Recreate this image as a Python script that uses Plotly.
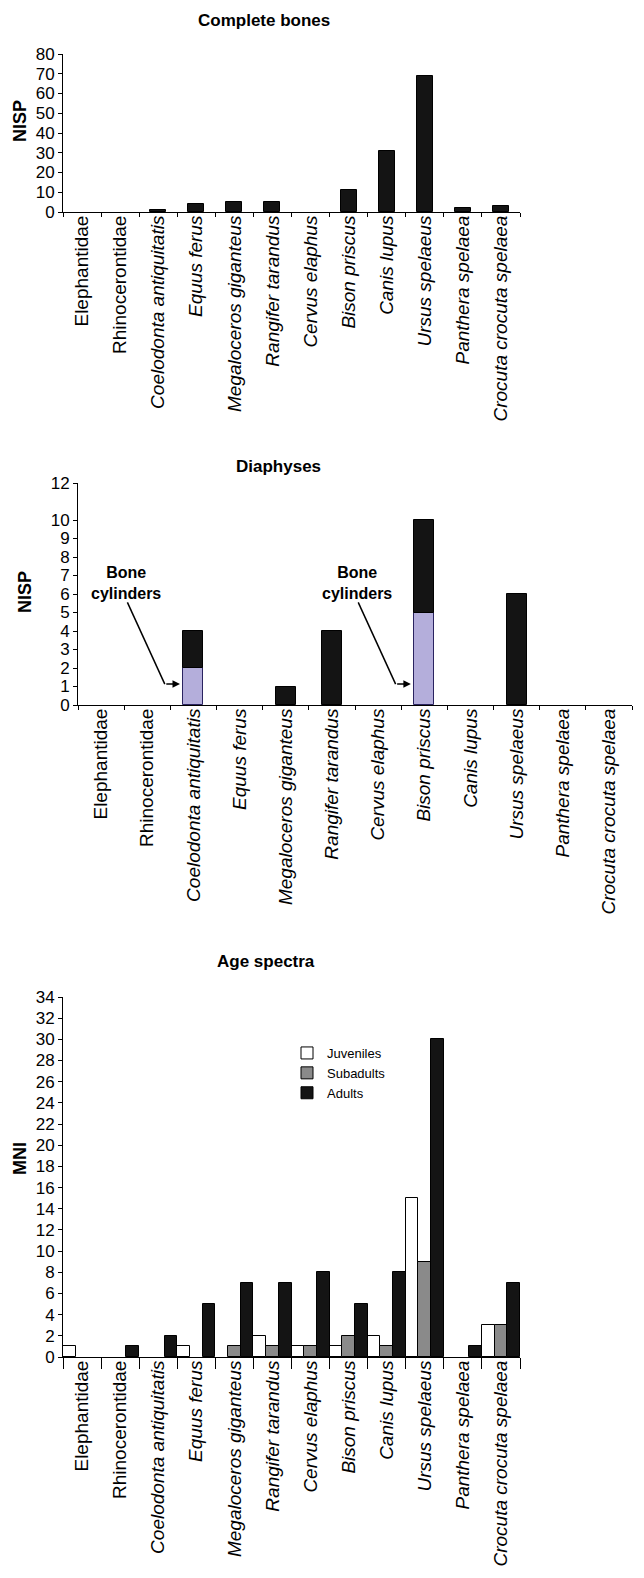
import plotly.graph_objects as go

# Taxa shown on every panel (the first two are families, the rest species)
taxa = ["Elephantidae", "Rhinocerontidae", "Coelodonta antiquitatis", "Equus ferus",
        "Megaloceros giganteus", "Rangifer tarandus", "Cervus elaphus", "Bison priscus",
        "Canis lupus", "Ursus spelaeus", "Panthera spelaea", "Crocuta crocuta spelaea"]
italic = [False, False] + [True] * 10
tick_text = [f"<i>{t}</i>" if it else t for t, it in zip(taxa, italic)]

# Complete bones, NISP
complete_nisp = [0, 0, 1, 4, 5, 5, 0, 11, 31, 69, 2, 3]

# Diaphyses, NISP (total per taxon and the bone cylinders among them)
diaphyses_total = [0, 0, 4, 0, 1, 4, 0, 10, 0, 6, 0, 0]
bone_cylinders = [0, 0, 2, 0, 0, 0, 0, 5, 0, 0, 0, 0]

# Age spectra, MNI
juveniles = [1, 0, 0, 1, 0, 2, 1, 1, 2, 15, 0, 3]
subadults = [0, 0, 0, 0, 1, 1, 1, 2, 1, 9, 0, 3]
adults = [0, 1, 2, 5, 7, 7, 8, 5, 8, 30, 1, 7]

diaphyses_other = [t - c for t, c in zip(diaphyses_total, bone_cylinders)]


def nz(vals):
    """Empty categories get no bar at all (no hairline outline at zero)."""
    return [v if v else None for v in vals]


W, H = 644, 1578
FONT = "Liberation Sans, Arial, sans-serif"
BLACK = "#141414"
GREY = "#8a8a8a"
LAVENDER = "#b4aedb"


def px_x(p):
    return p / W


def px_y(p):
    return (H - p) / H


fig = go.Figure()

# Panel 1: complete bones
fig.add_trace(go.Bar(x=taxa, y=nz(complete_nisp), xaxis="x", yaxis="y",
                     marker=dict(color=BLACK, line=dict(color="black", width=1)),
                     width=0.42, offset=-0.21, showlegend=False))

# Panel 2: diaphyses, cylinders at the bottom of each stack
fig.add_trace(go.Bar(x=taxa, y=nz(bone_cylinders), xaxis="x2", yaxis="y2",
                     marker=dict(color=LAVENDER, line=dict(color="#2a2360", width=1)),
                     width=0.43, offset=-0.215, showlegend=False))
fig.add_trace(go.Bar(x=taxa, y=nz(diaphyses_other), base=bone_cylinders, xaxis="x2", yaxis="y2",
                     marker=dict(color=BLACK, line=dict(color="black", width=1)),
                     width=0.43, offset=-0.215, showlegend=False))

# Panel 3: age spectra, grouped
for name, vals, col in [("Juveniles", juveniles, "white"),
                        ("Subadults", subadults, GREY),
                        ("Adults", adults, BLACK)]:
    fig.add_trace(go.Bar(x=taxa, y=nz(vals), name=name, xaxis="x3", yaxis="y3",
                         marker=dict(color=col, line=dict(color="black", width=1))))

xcommon = dict(type="category", categoryorder="array", categoryarray=taxa,
               tickmode="array", tickvals=taxa, ticktext=tick_text,
               tickangle=-90, tickson="boundaries", ticks="outside", ticklen=4,
               ticklabelstandoff=-5,
               tickcolor="black", showline=True, linecolor="black", linewidth=1,
               showgrid=False, zeroline=False, automargin=False,
               tickfont=dict(family=FONT, size=19, color="black"))
ycommon = dict(ticks="outside", ticklen=4, tickcolor="black", showline=True,
               linecolor="black", linewidth=1, showgrid=False, zeroline=False,
               automargin=False, tickfont=dict(family=FONT, size=17, color="black"))

fig.update_layout(
    width=W, height=H,
    margin=dict(l=0, r=0, t=0, b=0),
    paper_bgcolor="white", plot_bgcolor="rgba(0,0,0,0)",
    barmode="group", bargap=0, bargroupgap=0,
    font=dict(family=FONT, color="black"),
    xaxis=dict(xcommon, domain=[px_x(63), px_x(520)], anchor="y"),
    yaxis=dict(ycommon, domain=[px_y(212), px_y(54)], anchor="x",
               range=[0, 80], tickvals=list(range(0, 81, 10))),
    xaxis2=dict(xcommon, domain=[px_x(78), px_x(632)], anchor="y2"),
    yaxis2=dict(ycommon, domain=[px_y(705), px_y(483)], anchor="x2",
                range=[0, 12], tickvals=list(range(0, 11)) + [12]),
    xaxis3=dict(xcommon, domain=[px_x(63), px_x(520)], anchor="y3", ticklen=11),
    yaxis3=dict(ycommon, domain=[px_y(1357), px_y(997)], anchor="x3",
                range=[0, 34], tickvals=list(range(0, 35, 2))),
    legend=dict(x=px_x(287), y=px_y(1038), xanchor="left", yanchor="top",
                bgcolor="rgba(0,0,0,0)", font=dict(family=FONT, size=13, color="black"),
                tracegroupgap=0),
)

# Panel titles and axis titles
titles = [("Complete bones", 264, 21), ("Diaphyses", 278, 466), ("Age spectra", 266, 961)]
for text, x, y in titles:
    fig.add_annotation(text=f"<b>{text}</b>", xref="paper", yref="paper",
                       x=px_x(x), y=px_y(y), xanchor="center", yanchor="middle",
                       showarrow=False, font=dict(family=FONT, size=17, color="black"))
ytitles = [("NISP", 20, 121), ("NISP", 25, 592), ("MNI", 20, 1159)]
for text, x, y in ytitles:
    fig.add_annotation(text=f"<b>{text}</b>", xref="paper", yref="paper",
                       x=px_x(x), y=px_y(y), xanchor="center", yanchor="middle",
                       showarrow=False, textangle=-90,
                       font=dict(family=FONT, size=18, color="black"))

# "Bone cylinders" callouts: label, slanted leader, short horizontal arrow into the bar
for i in [k for k, c in enumerate(bone_cylinders) if c > 0]:
    fig.add_annotation(text="<b>Bone<br>cylinders</b>", xref="x2", yref="y2",
                       x=i - 1.46, y=6.6, showarrow=False,
                       font=dict(family=FONT, size=16, color="black"))
    fig.add_shape(type="line", xref="x2", yref="y2",
                  x0=i - 1.43, y0=5.55, x1=i - 0.62, y1=1.13,
                  line=dict(color="black", width=1.5))
    fig.add_annotation(text="", xref="x2", yref="y2", axref="x2", ayref="y2",
                       x=i - 0.29, y=1.13, ax=i - 0.62, ay=1.13,
                       showarrow=True, arrowhead=2, arrowsize=1, arrowwidth=1.5,
                       arrowcolor="black")

fig.write_html("out.html")
